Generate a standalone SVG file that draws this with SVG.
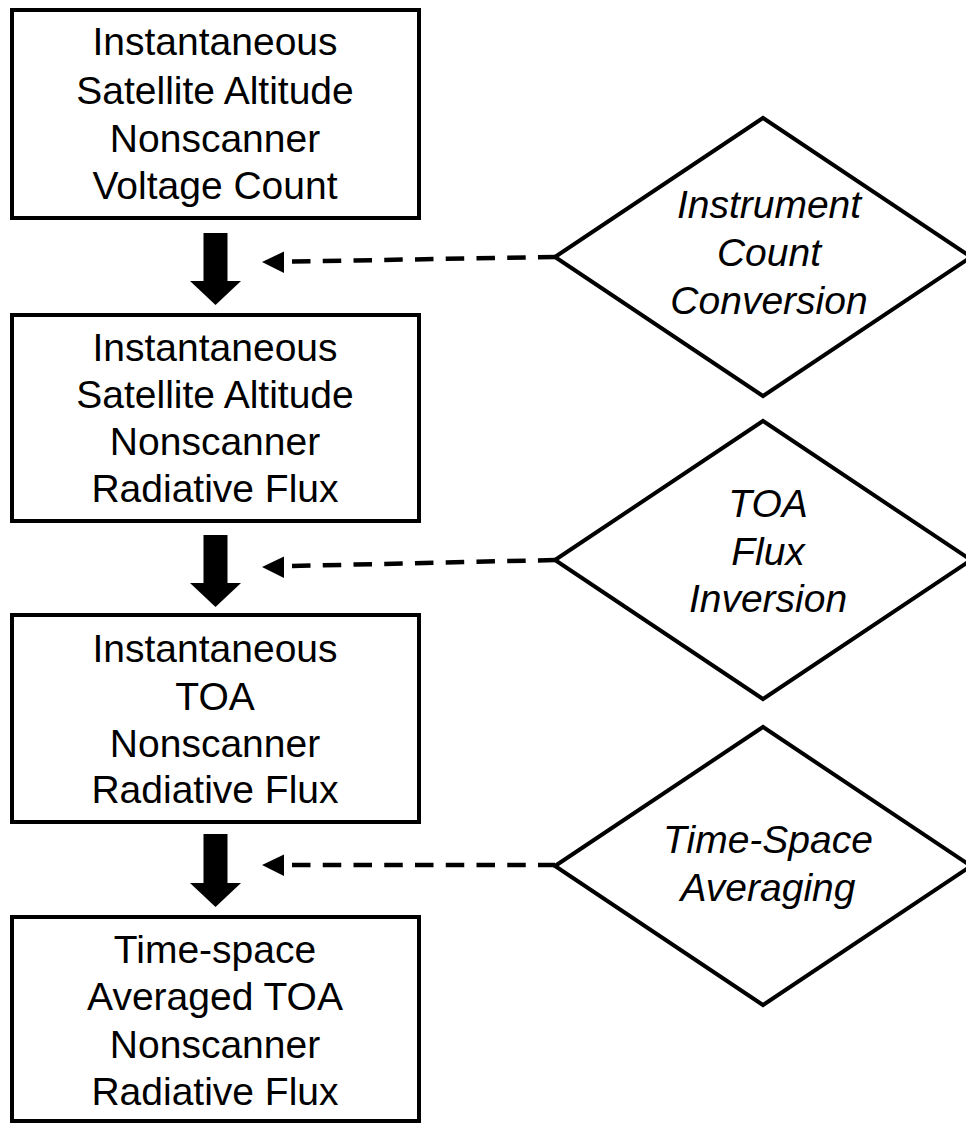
<svg xmlns="http://www.w3.org/2000/svg" width="966" height="1125" viewBox="0 0 966 1125">
<style>
.box{fill:#fff;stroke:#000;stroke-width:4}
.dia{fill:#fff;stroke:#000;stroke-width:4;stroke-linejoin:miter}
.t{font-family:"Liberation Sans",Arial,sans-serif;font-size:39px;fill:#000;text-anchor:middle}
.i{font-style:italic}
.dash{stroke:#000;stroke-width:4.5;fill:none;stroke-dasharray:18.5 12.25}
.solid{stroke:#000;stroke-width:4.5;fill:none}
</style>
<rect width="966" height="1125" fill="#fff"/>
<g id="connectors">
  <polygon points="203.5,233 227.5,233 227.5,281 241,281 215.5,305 190,281 203.5,281" fill="#000"/>
  <polygon points="203.5,535 227.5,535 227.5,583 241,583 215.5,607 190,583 203.5,583" fill="#000"/>
  <polygon points="203.5,834 227.5,834 227.5,883 241,883 215.5,907 190,883 203.5,883" fill="#000"/>
  <line class="dash" x1="292" y1="261.5" x2="555" y2="257"/>
  <polygon points="262,262 284,251.5 284,273" fill="#000"/>
  <line class="dash" x1="292" y1="566" x2="555" y2="560"/>
  <polygon points="262,567 284,556.5 284,578" fill="#000"/>
  <line class="dash" x1="292" y1="865" x2="555" y2="865"/>
  <polygon points="262,865 284,854.5 284,876" fill="#000"/>
</g>
<g id="node-voltage-count">
  <rect class="box" x="12" y="10" width="407" height="208"/>
  <text class="t" x="215" y="55">Instantaneous</text>
  <text class="t" x="215" y="104">Satellite Altitude</text>
  <text class="t" x="215" y="152">Nonscanner</text>
  <text class="t" x="215" y="199">Voltage Count</text>
</g>
<g id="node-sat-flux">
  <rect class="box" x="12" y="315" width="407" height="206"/>
  <text class="t" x="215" y="361">Instantaneous</text>
  <text class="t" x="215" y="408">Satellite Altitude</text>
  <text class="t" x="215" y="455">Nonscanner</text>
  <text class="t" x="215" y="502">Radiative Flux</text>
</g>
<g id="node-toa-flux">
  <rect class="box" x="12" y="615" width="407" height="207"/>
  <text class="t" x="215" y="662">Instantaneous</text>
  <text class="t" x="215" y="710">TOA</text>
  <text class="t" x="215" y="757">Nonscanner</text>
  <text class="t" x="215" y="803">Radiative Flux</text>
</g>
<g id="node-averaged-flux">
  <rect class="box" x="12" y="917" width="407" height="204"/>
  <text class="t" x="215" y="963">Time-space</text>
  <text class="t" x="215" y="1010">Averaged TOA</text>
  <text class="t" x="215" y="1058">Nonscanner</text>
  <text class="t" x="215" y="1105">Radiative Flux</text>
</g>
<g id="node-count-conversion">
  <polygon class="dia" points="555,257 763,118 971,257 763,396"/>
  <text class="t i" x="769" y="218">Instrument</text>
  <text class="t i" x="769" y="266">Count</text>
  <text class="t i" x="769" y="314">Conversion</text>
</g>
<g id="node-flux-inversion">
  <polygon class="dia" points="555,560 763,421 971,560 763,699"/>
  <text class="t i" x="768" y="517">TOA</text>
  <text class="t i" x="768" y="565">Flux</text>
  <text class="t i" x="768" y="612">Inversion</text>
</g>
<g id="node-time-space-averaging">
  <polygon class="dia" points="555,866 763,727 971,866 763,1005"/>
  <text class="t i" x="768" y="853">Time-Space</text>
  <text class="t i" x="768" y="901">Averaging</text>
</g>
</svg>
